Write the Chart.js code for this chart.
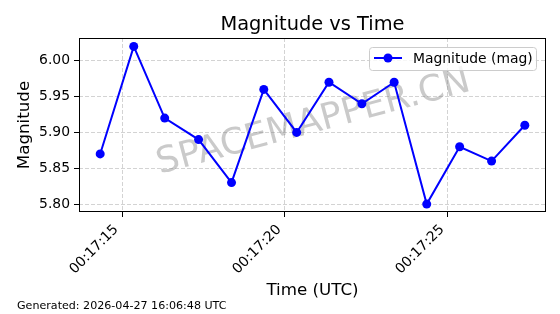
<!DOCTYPE html>
<html>
<head>
<meta charset="utf-8">
<script src="https://cdn.jsdelivr.net/npm/chart.js@4.4.0/dist/chart.umd.min.js"></script>
<style>
  html, body { margin: 0; padding: 0; background: #fff; }
  #wrap { position: relative; width: 560px; height: 314px; overflow: hidden; }
  #chart { position: absolute; left: 0; top: 0; }
  #title {
    position: absolute; left: 0; width: 625px; top: 12px;
    text-align: center; white-space: nowrap; color: #000;
    font: 19.4px/23px "DejaVu Sans", sans-serif;
  }
  #footer {
    position: absolute; left: 17px; top: 299px; white-space: nowrap; color: #000;
    font: 11.1px/13px "DejaVu Sans", sans-serif;
  }
</style>
</head>
<body>
<div id="wrap">
  <canvas id="chart" width="560" height="314"></canvas>
  <div id="title">Magnitude vs Time</div>
  <div id="footer">Generated: 2026-04-27 16:06:48 UTC</div>
</div>
<script>
// seconds after 00:17:00 UTC
const timeSeconds = [14.33, 15.36, 16.31, 17.35, 18.36, 19.35, 20.36, 21.35, 22.36, 23.35, 24.35, 25.36, 26.34, 27.36];
const magnitude = [5.87, 6.02, 5.92, 5.89, 5.83, 5.96, 5.90, 5.97, 5.94, 5.97, 5.80, 5.88, 5.86, 5.91];
const seriesLabel = "Magnitude (mag)";
const xTickValues = [15, 20, 25];
const yTickValues = [5.80, 5.85, 5.90, 5.95, 6.00];
const timePrefix = "00:17:";
const watermarkText = "SPACEMAPPER.CN";

const FONT = "DejaVu Sans";
const gridColor = "rgba(176,176,176,0.7)";

// draws watermark under the line
const watermark = {
  id: "watermark",
  beforeDatasetsDraw(chart) {
    const { ctx, chartArea: a } = chart;
    ctx.save();
    ctx.translate((a.left + a.right) / 2 + 1, (a.top + a.bottom) / 2 - 2);
    ctx.rotate(-15 * Math.PI / 180);
    ctx.font = "36px '" + FONT + "'";
    ctx.fillStyle = "rgba(128,128,128,0.42)";
    ctx.textAlign = "center";
    ctx.textBaseline = "middle";
    ctx.fillText(watermarkText, 0, 0);
    ctx.restore();
  }
};

// box round the plot + legend in the upper right corner
const frameAndLegend = {
  id: "frameAndLegend",
  afterDraw(chart) {
    const { ctx, chartArea: a } = chart;
    ctx.save();
    ctx.strokeStyle = "#000";
    ctx.lineWidth = 1;
    ctx.strokeRect(a.left + 0.5, a.top + 0.5, a.right - a.left - 1, a.bottom - a.top - 1);

    // legend box
    const bx = 369.5, by = 47.5, bw = 167, bh = 23, r = 3;
    ctx.beginPath();
    ctx.moveTo(bx + r, by);
    ctx.arcTo(bx + bw, by, bx + bw, by + bh, r);
    ctx.arcTo(bx + bw, by + bh, bx, by + bh, r);
    ctx.arcTo(bx, by + bh, bx, by, r);
    ctx.arcTo(bx, by, bx + bw, by, r);
    ctx.closePath();
    ctx.fillStyle = "rgba(255,255,255,0.8)";
    ctx.fill();
    ctx.strokeStyle = "#cccccc";
    ctx.stroke();

    const ds = chart.data.datasets[0];
    const ly = 58;
    ctx.strokeStyle = ds.borderColor;
    ctx.lineWidth = ds.borderWidth;
    ctx.beginPath();
    ctx.moveTo(374, ly);
    ctx.lineTo(402, ly);
    ctx.stroke();
    ctx.fillStyle = ds.backgroundColor;
    ctx.beginPath();
    ctx.arc(388, ly, ds.pointRadius, 0, Math.PI * 2);
    ctx.fill();

    ctx.fillStyle = "#000";
    ctx.font = "13.9px '" + FONT + "'";
    ctx.textAlign = "left";
    ctx.textBaseline = "alphabetic";
    ctx.fillText(ds.label, 413, 63);
    ctx.restore();
  }
};

const ctx = document.getElementById("chart");

new Chart(ctx, {
  type: "line",
  plugins: [watermark, frameAndLegend],
  data: {
    datasets: [{
      label: seriesLabel,
      data: timeSeconds.map((t, i) => ({ x: t, y: magnitude[i] })),
      borderColor: "#0000ff",
      backgroundColor: "#0000ff",
      borderWidth: 2,
      pointRadius: 4.5,
      pointHoverRadius: 4.5,
      pointBorderWidth: 0,
      tension: 0,
      fill: false
    }]
  },
  options: {
    responsive: false,
    animation: false,
    devicePixelRatio: 1,
    layout: { padding: { top: 38, right: 14, bottom: 0, left: 0 } },
    plugins: {
      legend: { display: false },
      tooltip: { enabled: false },
      title: { display: false }
    },
    scales: {
      x: {
        type: "linear",
        min: 13.68,
        max: 28.01,
        afterBuildTicks: (s) => { s.ticks = xTickValues.map(v => ({ value: v })); },
        afterFit: (s) => { s.height = 102; },
        ticks: {
          minRotation: 45,
          maxRotation: 45,
          autoSkip: false,
          padding: 4.6,
          labelOffset: -5.7,
          color: "#000",
          font: { family: FONT, size: 13.9 },
          callback: (v) => timePrefix + String(v).padStart(2, "0")
        },
        grid: { color: gridColor, lineWidth: 0.8, tickLength: 5, tickColor: "#000", tickWidth: 1 },
        border: { display: false, dash: [4, 2] },
        title: {
          display: true,
          text: "Time (UTC)",
          color: "#000",
          font: { family: FONT, size: 16.7 },
          padding: { top: 0, bottom: 13.5 }
        }
      },
      y: {
        min: 5.789,
        max: 6.0317,
        afterBuildTicks: (s) => { s.ticks = yTickValues.map(v => ({ value: v })); },
        afterFit: (s) => { s.width = 79; },
        ticks: {
          padding: 4,
          color: "#000",
          font: { family: FONT, size: 13.9 },
          callback: (v) => Number(v).toFixed(2)
        },
        grid: { color: gridColor, lineWidth: 0.8, tickLength: 5, tickColor: "#000", tickWidth: 1 },
        border: { display: false, dash: [4, 2] },
        title: {
          display: true,
          text: "Magnitude",
          color: "#000",
          font: { family: FONT, size: 16.7 },
          padding: { top: 14.2, bottom: 0 }
        }
      }
    }
  }
});
</script>
</body>
</html>
